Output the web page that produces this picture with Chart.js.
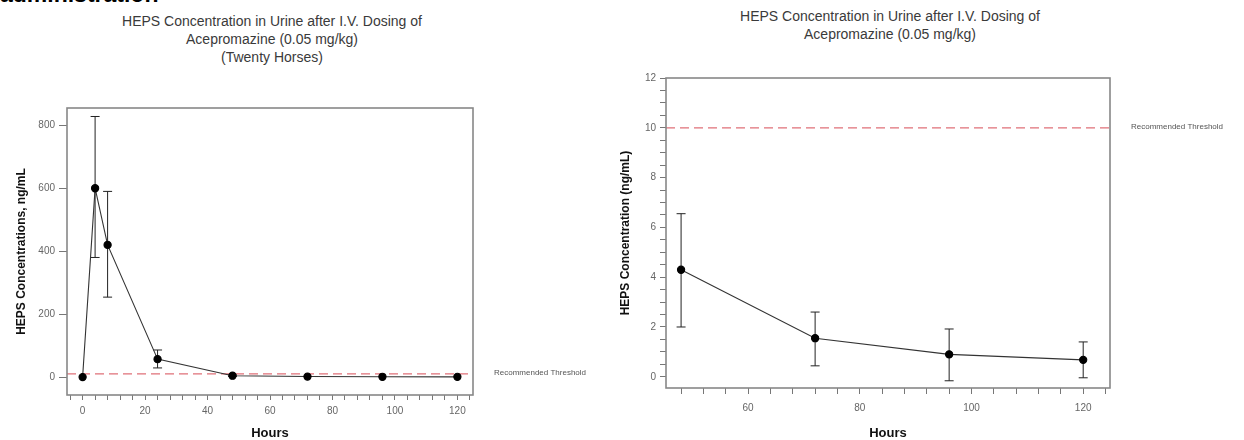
<!DOCTYPE html>
<html><head><meta charset="utf-8">
<script src="https://cdn.jsdelivr.net/npm/chart.js@4.4.0/dist/chart.umd.min.js"></script>
<style>
body{margin:0;background:#fff;width:1244px;height:440px;overflow:hidden;position:relative;font-family:"Liberation Sans",Arial,sans-serif;}
canvas{position:absolute;top:0;}
#c1{left:0;}
#c2{left:600px;}
.title{position:absolute;text-align:center;color:#3a3a3a;font-size:14px;line-height:18px;white-space:nowrap;}
.doc{position:absolute;left:0;top:-19px;font-weight:bold;font-size:23px;line-height:26px;color:#000;}
</style></head>
<body>
<div class="doc">administration</div>
<div class="title" style="left:72px;width:400px;top:12px">HEPS Concentration in Urine after I.V. Dosing of<br>Acepromazine (0.05 mg/kg)<br>(Twenty Horses)</div>
<div class="title" style="left:690px;width:400px;top:7px">HEPS Concentration in Urine after I.V. Dosing of<br>Acepromazine (0.05 mg/kg)</div>
<canvas id="c1" width="600" height="440"></canvas>
<canvas id="c2" width="644" height="440"></canvas>
<script>
// ---- data ----
const hoursEarly = [0, 4, 8, 24];
const meanEarly  = [0, 600, 420, 57];
const upperEarly = [0, 828, 590, 86];
const lowerEarly = [0, 380, 254, 29];

const hoursLate = [48, 72, 96, 120];
const meanLate  = [4.3, 1.55, 0.9, 0.68];
const upperLate = [6.55, 2.6, 1.92, 1.4];
const lowerLate = [2.0, 0.44, -0.16, -0.04];

const threshold = 10;
const thresholdLabel = 'Recommended Threshold';

const leftXTickLabels  = [0, 20, 40, 60, 80, 100, 120];
const leftYTickLabels  = [0, 200, 400, 600, 800];
const rightXTickLabels = [60, 80, 100, 120];
const rightYTickLabels = [0, 2, 4, 6, 8, 10, 12];

const hoursAll = hoursEarly.concat(hoursLate);
const meanAll  = meanEarly.concat(meanLate);
const upperAll = upperEarly.concat(upperLate);
const lowerAll = lowerEarly.concat(lowerLate);

// ---- plugins ----
const errorBars = {
  id: 'errorBars',
  beforeDatasetsDraw(chart, args, opts) {
    const {ctx, scales: {x, y}} = chart;
    ctx.save();
    ctx.strokeStyle = '#222';
    ctx.lineWidth = 1;
    opts.hours.forEach((h, i) => {
      const px = x.getPixelForValue(h);
      const yu = y.getPixelForValue(opts.upper[i]);
      const yl = y.getPixelForValue(opts.lower[i]);
      if (Math.abs(yl - yu) < 1) return;
      ctx.beginPath();
      ctx.moveTo(px, yu); ctx.lineTo(px, yl);
      ctx.moveTo(px - 4.5, yu); ctx.lineTo(px + 4.5, yu);
      ctx.moveTo(px - 4.5, yl); ctx.lineTo(px + 4.5, yl);
      ctx.stroke();
    });
    ctx.restore();
  }
};
const thresholdLine = {
  id: 'thresholdLine',
  beforeDatasetsDraw(chart) {
    const {ctx, chartArea: a, scales: {y}} = chart;
    const py = y.getPixelForValue(threshold);
    ctx.save();
    ctx.strokeStyle = '#e07078';
    ctx.lineWidth = 1.2;
    ctx.setLineDash([9, 5]);
    ctx.beginPath();
    ctx.moveTo(a.left, py); ctx.lineTo(a.right, py);
    ctx.stroke();
    ctx.setLineDash([]);
    ctx.fillStyle = '#555';
    ctx.font = '8px "Liberation Sans", Arial, sans-serif';
    ctx.textBaseline = 'middle';
    ctx.textAlign = 'left';
    ctx.fillText(thresholdLabel, a.right + 21, py - 1);
    ctx.restore();
  }
};
const frame = {
  id: 'frame',
  afterDraw(chart) {
    const {ctx, chartArea: a} = chart;
    ctx.save();
    ctx.strokeStyle = '#888';
    ctx.lineWidth = 1.6;
    ctx.strokeRect(a.left, a.top, a.right - a.left, a.bottom - a.top);
    ctx.restore();
  }
};

function makeTicks(min, max, step) {
  const out = [];
  for (let v = Math.ceil(min / step) * step; v <= max + 1e-9; v += step) out.push({value: Math.round(v * 100) / 100});
  return out;
}

function buildChart(id, cfg) {
  return new Chart(document.getElementById(id), {
    type: 'line',
    data: {
      datasets: [{
        data: cfg.hours.map((h, i) => ({x: h, y: cfg.mean[i]})),
        borderColor: '#333',
        borderWidth: 1.1,
        pointRadius: 3.6,
        pointBackgroundColor: '#000',
        pointBorderColor: '#000',
        tension: 0,
        fill: false
      }]
    },
    options: {
      responsive: false,
      animation: false,
      layout: {padding: cfg.padding},
      plugins: {
        legend: {display: false},
        tooltip: {enabled: false},
        errorBars: {hours: cfg.hours, upper: cfg.upper, lower: cfg.lower}
      },
      scales: {
        x: {
          type: 'linear',
          min: cfg.xMin, max: cfg.xMax,
          afterBuildTicks: s => { s.ticks = makeTicks(cfg.xMin, cfg.xMax, cfg.xMinor); },
          afterFit: s => { s.height = cfg.xHeight; },
          grid: {drawOnChartArea: false, tickLength: cfg.xTickLen, color: '#777', tickWidth: 1},
          border: {display: false},
          ticks: {
            autoSkip: false, maxRotation: 0, padding: cfg.xTickPad,
            color: '#666', font: {size: 10, family: '"Liberation Sans", Arial, sans-serif'},
            callback: v => cfg.xLabels.includes(v) ? String(v) : ''
          },
          title: {display: true, text: 'Hours', color: '#111',
            font: {size: 13, weight: 'bold', family: '"Liberation Sans", Arial, sans-serif', lineHeight: 1},
            padding: {top: 0, bottom: 0}}
        },
        y: {
          type: 'linear',
          min: cfg.yMin, max: cfg.yMax,
          afterBuildTicks: s => { s.ticks = makeTicks(cfg.yMin, cfg.yMax, cfg.yMinor); },
          afterFit: s => { s.width = cfg.yWidth; },
          grid: {drawOnChartArea: false, tickLength: cfg.yTickLen, color: '#777', tickWidth: 1},
          border: {display: false},
          ticks: {
            autoSkip: false, padding: 4,
            color: '#666', font: {size: 10, family: '"Liberation Sans", Arial, sans-serif'},
            callback: v => cfg.yLabels.includes(v) ? String(v) : ''
          },
          title: {display: true, text: cfg.yTitle, color: '#111',
            font: {size: 12, weight: 'bold', family: '"Liberation Sans", Arial, sans-serif', lineHeight: 1},
            padding: {top: cfg.yTitlePad, bottom: 0}}
        }
      }
    },
    plugins: [thresholdLine, errorBars, frame]
  });
}

buildChart('c1', {
  hours: hoursAll, mean: meanAll, upper: upperAll, lower: lowerAll,
  xMin: -5, xMax: 125, xMinor: 4, xLabels: leftXTickLabels,
  yMin: -57, yMax: 855, yMinor: 200, yLabels: leftYTickLabels,
  padding: {left: 0, right: 127, top: 108, bottom: 0},
  xHeight: 45, yWidth: 67, xTickLen: 5, xTickPad: 5, yTickLen: 8,
  yTitle: 'HEPS Concentrations, ng/mL', yTitlePad: 16
});

buildChart('c2', {
  hours: hoursLate, mean: meanLate, upper: upperLate, lower: lowerLate,
  xMin: 45.3, xMax: 124.8, xMinor: 4, xLabels: rightXTickLabels,
  yMin: -0.45, yMax: 12, yMinor: 0.5, yLabels: rightYTickLabels,
  padding: {left: 0, right: 134, top: 78, bottom: 0},
  xHeight: 52, yWidth: 66, xTickLen: 6, xTickPad: 8, yTickLen: 6,
  yTitle: 'HEPS Concentration (ng/mL)', yTitlePad: 20
});
</script>
</body></html>
